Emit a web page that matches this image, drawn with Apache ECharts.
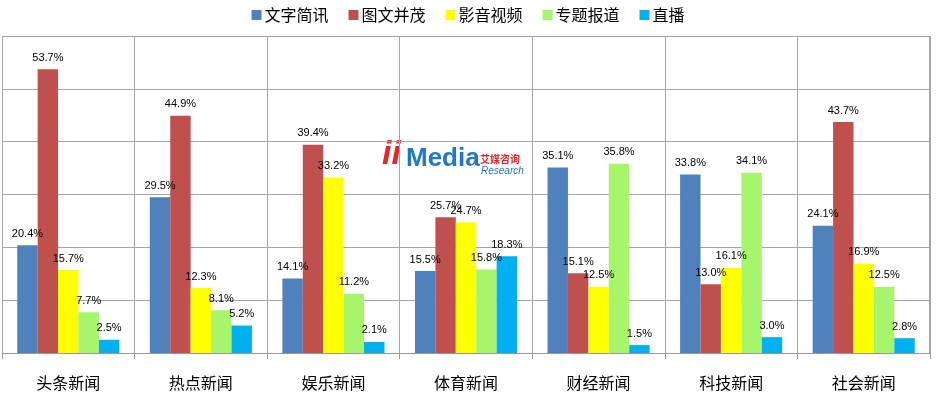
<!DOCTYPE html>
<html>
<head>
<meta charset="utf-8">
<script src="https://cdn.jsdelivr.net/npm/echarts@6/dist/echarts.min.js"></script>
<style>
html,body{margin:0;padding:0;background:#fff;}
#chart{width:936px;height:396px;}
</style>
</head>
<body>
<div id="chart"></div>
<script>
var categories = ['头条新闻','热点新闻','娱乐新闻','体育新闻','财经新闻','科技新闻','社会新闻'];
var seriesNames = ['文字简讯','图文并茂','影音视频','专题报道','直播'];
var textBrief = [20.4, 29.5, 14.1, 15.5, 35.1, 33.8, 24.1];
var imageText = [53.7, 44.9, 39.4, 25.7, 15.1, 13.0, 43.7];
var video = [15.7, 12.3, 33.2, 24.7, 12.5, 16.1, 16.9];
var feature = [7.7, 8.1, 11.2, 15.8, 35.8, 34.1, 12.5];
var live = [2.5, 5.2, 2.1, 18.3, 1.5, 3.0, 2.8];
var colors = ['#4f81bd','#c0504d','#ffff00','#a6f56a','#00b0f0'];

var allData = [textBrief, imageText, video, feature, live];
var font = '"Liberation Sans", Arial, sans-serif';
var chart = echarts.init(document.getElementById('chart'));
var series = allData.map(function(d, i){
  return {
    name: seriesNames[i],
    type: 'bar',
    data: d,
    barGap: '0%',
    barCategoryGap: '23%',
    itemStyle: {color: colors[i]},
    label: {
      show: true, position: 'top', distance: 6,
      color: '#000', fontSize: 11, fontFamily: font,
      formatter: function(p){ return p.value.toFixed(1) + '%'; }
    }
  };
});
chart.setOption({
  animation: false,
  backgroundColor: '#fff',
  color: colors,
  legend: {
    top: 2, left: 'center',
    itemWidth: 10, itemHeight: 10, itemGap: 20,
    icon: 'rect',
    textStyle: {fontSize: 16, color: '#000', fontFamily: '"Noto Sans CJK SC", sans-serif', padding: [0,0,0,-2]},
    data: seriesNames
  },
  grid: {left: 2, right: 6, top: 36, bottom: 43, containLabel: false},
  xAxis: {
    type: 'category',
    data: categories,
    axisLine: {show: true, lineStyle: {color: '#999'}},
    axisTick: {show: true, length: 6, lineStyle: {color: '#999'}},
    axisLabel: {fontSize: 16, color: '#000', margin: 22, fontFamily: '"Noto Sans CJK SC", sans-serif'},
    splitLine: {show: true, lineStyle: {color: '#a6a6a6', width: 1}}
  },
  yAxis: {
    type: 'value', min: 0, max: 60, interval: 10,
    axisLabel: {show: false},
    axisLine: {show: false},
    axisTick: {show: false},
    splitLine: {show: true, lineStyle: {color: '#a6a6a6', width: 1}}
  },
  graphic: [
    {type: 'rect', left: 929, top: 36, shape: {width: 1, height: 317}, style: {fill: '#a6a6a6'}, z: 0},
    {type: 'text', left: 382, top: 138, style: {text: 'ii', font: 'italic bold 34px "Liberation Sans"', fill: '#e8262a'}},
    {type: 'text', left: 406, top: 146, style: {text: 'Media', font: 'bold 26px "Liberation Sans"', fill: '#1f78c8'}},
    {type: 'text', left: 480, top: 154, style: {text: '艾媒咨询', font: 'bold 10px "Noto Sans CJK SC"', fill: '#e8262a'}},
    {type: 'text', left: 481, top: 166, style: {text: 'Research', font: 'italic 10px "Liberation Sans"', fill: '#1f78c8'}}
  ],
  series: series
});
</script>
</body>
</html>
